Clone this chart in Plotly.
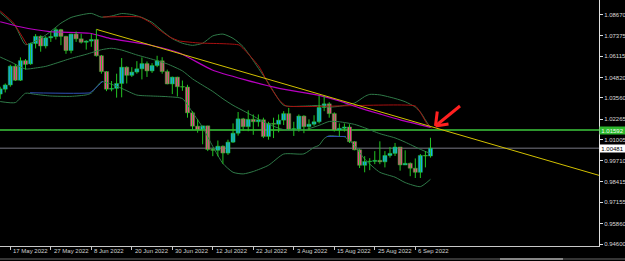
import plotly.graph_objects as go

# ---------------- data (EURUSD daily) ----------------
dates = ["13 May 2022", "16 May 2022", "17 May 2022", "18 May 2022", "19 May 2022", "20 May 2022",
         "23 May 2022", "24 May 2022", "25 May 2022", "26 May 2022", "27 May 2022", "30 May 2022",
         "31 May 2022", "1 Jun 2022", "2 Jun 2022", "3 Jun 2022", "6 Jun 2022", "7 Jun 2022",
         "8 Jun 2022", "9 Jun 2022", "10 Jun 2022", "13 Jun 2022", "14 Jun 2022", "15 Jun 2022",
         "16 Jun 2022", "17 Jun 2022", "20 Jun 2022", "21 Jun 2022", "22 Jun 2022", "23 Jun 2022",
         "24 Jun 2022", "27 Jun 2022", "28 Jun 2022", "29 Jun 2022", "30 Jun 2022", "1 Jul 2022",
         "4 Jul 2022", "5 Jul 2022", "6 Jul 2022", "7 Jul 2022", "8 Jul 2022", "11 Jul 2022",
         "12 Jul 2022", "13 Jul 2022", "14 Jul 2022", "15 Jul 2022", "18 Jul 2022", "19 Jul 2022",
         "20 Jul 2022", "21 Jul 2022", "22 Jul 2022", "25 Jul 2022", "26 Jul 2022", "27 Jul 2022",
         "28 Jul 2022", "29 Jul 2022", "1 Aug 2022", "2 Aug 2022", "3 Aug 2022", "4 Aug 2022",
         "5 Aug 2022", "8 Aug 2022", "9 Aug 2022", "10 Aug 2022", "11 Aug 2022", "12 Aug 2022",
         "15 Aug 2022", "16 Aug 2022", "17 Aug 2022", "18 Aug 2022", "19 Aug 2022", "22 Aug 2022",
         "23 Aug 2022", "24 Aug 2022", "25 Aug 2022", "26 Aug 2022", "29 Aug 2022", "30 Aug 2022",
         "31 Aug 2022", "1 Sep 2022", "2 Sep 2022", "5 Sep 2022", "6 Sep 2022", "7 Sep 2022",
         "8 Sep 2022", "9 Sep 2022"]

opens = [1.0380, 1.0410, 1.0436, 1.0551, 1.0465, 1.0585, 1.0565, 1.0690, 1.0734, 1.0675, 1.0725,
         1.0733, 1.0775, 1.0734, 1.0647, 1.0748, 1.0719, 1.0698, 1.0705, 1.0715, 1.0615, 1.0518,
         1.0410, 1.0415, 1.0445, 1.0545, 1.0495, 1.0515, 1.0535, 1.0567, 1.0522, 1.0555, 1.0584,
         1.0518, 1.0442, 1.0484, 1.0425, 1.0423, 1.0265, 1.0183, 1.0162, 1.0185, 1.0040, 1.0035,
         1.0060, 1.0018, 1.0085, 1.0140, 1.0228, 1.0180, 1.0225, 1.0210, 1.0222, 1.0120, 1.0200,
         1.0195, 1.0220, 1.0260, 1.0165, 1.0165, 1.0245, 1.0180, 1.0195, 1.0210, 1.0298, 1.0320,
         1.0260, 1.0160, 1.0170, 1.0178, 1.0088, 1.0038, 0.9943, 0.9966, 0.9967, 0.9973, 0.9964,
         1.0003, 1.0016, 1.0055, 0.9945, 0.9955, 0.9925, 0.9900, 1.0003, 1.0000]
highs = [1.0425, 1.0445, 1.0560, 1.0565, 1.0605, 1.0595, 1.0695, 1.0748, 1.0740, 1.0735, 1.0765,
         1.0787, 1.0780, 1.0737, 1.0750, 1.0764, 1.0750, 1.0710, 1.0749, 1.0777, 1.0620, 1.0520,
         1.0460, 1.0505, 1.0601, 1.0550, 1.0545, 1.0582, 1.0605, 1.0580, 1.0570, 1.0615, 1.0606,
         1.0530, 1.0487, 1.0486, 1.0463, 1.0437, 1.0275, 1.0225, 1.0185, 1.0185, 1.0050, 1.0095,
         1.0065, 1.0100, 1.0200, 1.0270, 1.0234, 1.0280, 1.0255, 1.0255, 1.0235, 1.0210, 1.0235,
         1.0255, 1.0275, 1.0295, 1.0210, 1.0255, 1.0250, 1.0225, 1.0250, 1.0370, 1.0368, 1.0330,
         1.0268, 1.0200, 1.0200, 1.0195, 1.0090, 1.0045, 0.9999, 0.9987, 1.0030, 1.0090, 1.0030,
         1.0055, 1.0080, 1.0055, 1.0035, 0.9960, 0.9985, 1.0012, 1.0030, 1.0112]
lows = [1.0350, 1.0390, 1.0425, 1.0460, 1.0460, 1.0530, 1.0560, 1.0660, 1.0640, 1.0660, 1.0700,
        1.0715, 1.0680, 1.0627, 1.0630, 1.0700, 1.0690, 1.0653, 1.0670, 1.0610, 1.0505, 1.0398,
        1.0397, 1.0358, 1.0360, 1.0445, 1.0485, 1.0505, 1.0470, 1.0485, 1.0510, 1.0545, 1.0505,
        1.0440, 1.0380, 1.0365, 1.0400, 1.0235, 1.0161, 1.0143, 1.0072, 1.0030, 0.9999, 0.9998,
        0.9952, 1.0007, 1.0080, 1.0125, 1.0155, 1.0152, 1.0130, 1.0180, 1.0110, 1.0100, 1.0110,
        1.0145, 1.0190, 1.0160, 1.0123, 1.0150, 1.0140, 1.0160, 1.0185, 1.0200, 1.0275, 1.0235,
        1.0150, 1.0120, 1.0150, 1.0080, 1.0035, 0.9926, 0.9900, 0.9913, 0.9950, 0.9950, 0.9930,
        0.9990, 1.0000, 0.9910, 0.9945, 0.9876, 0.9865, 0.9865, 0.9930, 0.9990]
closes = [1.0412, 1.0436, 1.0551, 1.0465, 1.0585, 1.0562, 1.0690, 1.0734, 1.0675, 1.0725, 1.0733,
          1.0775, 1.0734, 1.0647, 1.0748, 1.0719, 1.0698, 1.0705, 1.0715, 1.0615, 1.0518, 1.0410,
          1.0415, 1.0445, 1.0545, 1.0495, 1.0515, 1.0535, 1.0567, 1.0522, 1.0555, 1.0584, 1.0518,
          1.0442, 1.0484, 1.0425, 1.0423, 1.0265, 1.0183, 1.0162, 1.0185, 1.0040, 1.0035, 1.0060,
          1.0018, 1.0085, 1.0140, 1.0228, 1.0180, 1.0225, 1.0210, 1.0222, 1.0120, 1.0200, 1.0195,
          1.0220, 1.0260, 1.0165, 1.0165, 1.0245, 1.0180, 1.0195, 1.0210, 1.0298, 1.0320, 1.0260,
          1.0160, 1.0170, 1.0178, 1.0088, 1.0038, 0.9943, 0.9966, 0.9967, 0.9973, 0.9964, 1.0003,
          1.0016, 1.0055, 0.9945, 0.9955, 0.9925, 0.9900, 1.0003, 1.0000, 1.0048]

# Bollinger bands, read at selected bars (bar index -> price)
bb_upper_idx = [0, 3, 5, 7, 9, 11, 12, 14, 16, 18, 20, 22, 24, 26, 28, 30, 32, 34, 36, 38, 40, 42,
                44, 46, 48, 50, 53, 56, 60, 63, 65, 67, 70, 72, 73, 75, 78, 80, 82, 83, 84, 85]
bb_upper = [1.0880, 1.0795, 1.0683, 1.0706, 1.0742, 1.0790, 1.0815, 1.0850, 1.0866, 1.0875, 1.0852,
            1.0859, 1.0874, 1.0868, 1.0850, 1.0820, 1.0768, 1.0720, 1.0692, 1.0679, 1.0692, 1.0737,
            1.0748, 1.0722, 1.0671, 1.0585, 1.0447, 1.0311, 1.0306, 1.0310, 1.0300, 1.0305, 1.0325,
            1.0365, 1.0378, 1.0375, 1.0353, 1.0333, 1.0300, 1.0270, 1.0221, 1.0173]
bb_mid_idx = [0, 2, 5, 7, 9, 11, 14, 17, 20, 22, 24, 27, 30, 33, 36, 38, 40, 42, 44, 46, 48, 50, 53,
              56, 60, 63, 65, 67, 70, 72, 75, 78, 80, 83, 85]
bb_mid = [1.0607, 1.0579, 1.0534, 1.0540, 1.0550, 1.0569, 1.0599, 1.0624, 1.0652, 1.0661, 1.0650,
          1.0620, 1.0594, 1.0565, 1.0522, 1.0473, 1.0434, 1.0396, 1.0351, 1.0311, 1.0278, 1.0245,
          1.0195, 1.0162, 1.0160, 1.0188, 1.0212, 1.0210, 1.0194, 1.0173, 1.0137, 1.0111, 1.0085,
          1.0041, 1.0015]
bb_lower_idx = [0, 3, 5, 7, 10, 14, 17, 18, 19, 20, 22, 24, 27, 30, 33, 36, 38, 40, 42, 44, 46, 48,
                50, 53, 56, 60, 62, 63, 64, 65, 67, 68, 69, 70, 72, 75, 78, 80, 83, 85]
bb_lower = [1.0334, 1.0328, 1.0385, 1.0378, 1.0368, 1.0366, 1.0375, 1.0386, 1.0423, 1.0456, 1.0440,
            1.0415, 1.0374, 1.0368, 1.0364, 1.0352, 1.0267, 1.0175, 1.0059, 0.9954, 0.9900, 0.9890,
            0.9905, 0.9943, 1.0012, 1.0013, 1.0053, 1.0066, 1.0107, 1.0124, 1.0120, 1.0118, 1.0093,
            1.0064, 0.9981, 0.9900, 0.9870, 0.9837, 0.9812, 0.9857]

# long moving average (magenta)
ma_idx = [0, 3.9, 9.8, 17.7, 21.6, 29.5, 35.4, 41.9, 48.6, 55.1, 63, 67, 71, 75, 79, 85]
ma_val = [1.0824, 1.0793, 1.0763, 1.0753, 1.0722, 1.0681, 1.0632, 1.0528, 1.0466, 1.0415, 1.0372,
          1.0338, 1.0295, 1.0258, 1.0222, 1.0176]

# upper stop line (dark red) and lower stop line (blue); None = not drawn
red_idx = [0, 2.6, 5.3, None, 20.3, 27.6, 29.5, 31.5, 33.5, 35.4, 39.4, 47.2, 49.2, 51.2, 53.1,
           55.1, 56.5, 82.0, 83.3, 84.2, 85.2]
red_val = [1.0890, 1.0818, 1.0683, None, 1.0853, 1.0853, 1.0822, 1.0773, 1.0730, 1.0706, 1.0693,
           1.0681, 1.0620, 1.0546, 1.0436, 1.0344, 1.0307, 1.0307, 1.0252, 1.0203, 1.0172]
blue_idx = [5.9, 17.7, 19.1, 20.3, None, 64.5, 68.3]
blue_val = [1.0388, 1.0388, 1.0423, 1.0460, None, 1.0120, 1.0120]

# trend line from the 9 Jun high, extended to the right edge
trend_idx = [19, 118.3]
trend_val = [1.0777, 0.9881]

level_green = 1.01592
level_bid = 1.00481

y_ticks = [0.94600, 0.95860, 0.97155, 0.98415, 0.99710, 1.01005, 1.02265, 1.03560, 1.04820,
           1.06115, 1.07375, 1.08670]
x_label_dates = ["17 May 2022", "27 May 2022", "8 Jun 2022", "20 Jun 2022", "30 Jun 2022",
                 "12 Jul 2022", "22 Jul 2022", "3 Aug 2022", "15 Aug 2022", "25 Aug 2022",
                 "6 Sep 2022"]

# ---------------- styles ----------------
GREEN = "#22c422"
BULL = "#14a8f4"
BEAR = "#f2408e"
BB = "#2f7a48"
FONT = "Liberation Sans"

x_idx = list(range(len(dates)))
x_tick_pos = [dates.index(d) for d in x_label_dates]

fig = go.Figure()

# horizontal levels
fig.add_hline(y=level_bid, line=dict(color="#505058", width=1.5), layer="below")
fig.add_hline(y=level_green, line=dict(color="#3cc83c", width=1.5), layer="below")

def line(xs, ys, color, width=1, smooth=0.6):
    fig.add_trace(go.Scatter(x=xs, y=ys, mode="lines", connectgaps=False,
                             line=dict(color=color, width=width, shape="spline", smoothing=smooth),
                             hoverinfo="skip", showlegend=False))

line(bb_upper_idx, bb_upper, BB)
line(bb_mid_idx, bb_mid, BB)
line(bb_lower_idx, bb_lower, BB)
line(blue_idx, blue_val, "#3050b8", smooth=0.3)
line(red_idx, red_val, "#a81010", smooth=0.4)
line(ma_idx, ma_val, "#b800c0", width=1.2)
fig.add_trace(go.Scatter(x=trend_idx, y=trend_val, mode="lines",
                         line=dict(color="#d2c000", width=1), hoverinfo="skip", showlegend=False))

# candles: wicks as one line trace, bodies as bars
wx, wy = [], []
for i, (h, l) in enumerate(zip(highs, lows)):
    wx += [i, i, None]
    wy += [l, h, None]
fig.add_trace(go.Scatter(x=wx, y=wy, mode="lines", line=dict(color=GREEN, width=1),
                         hoverinfo="skip", showlegend=False))

body_base = [min(o, c) for o, c in zip(opens, closes)]
body_len = [max(abs(c - o), 0.00025) for o, c in zip(opens, closes)]
body_col = [BULL if c >= o else BEAR for o, c in zip(opens, closes)]
fig.add_trace(go.Bar(x=x_idx, y=body_len, base=body_base, width=0.8,
                     marker=dict(color=body_col, line=dict(color=GREEN, width=0.5)),
                     hoverinfo="skip", showlegend=False))

W, H = 625, 261
PW, PH = 599, 246

fig.update_layout(
    width=W, height=H, template="none", barmode="overlay",
    margin=dict(l=0, r=W - PW, t=0, b=H - PH, pad=0),
    paper_bgcolor="black", plot_bgcolor="black",
    font=dict(family=FONT, size=6, color="#d0d0d0"),
    showlegend=False,
    xaxis=dict(range=[-0.035, 118.29], showgrid=False, zeroline=False,
               showline=True, linecolor="#c8c8c8", linewidth=1,
               tickmode="array", tickvals=x_tick_pos, ticktext=["" for _ in x_tick_pos],
               ticks="outside", ticklen=3, tickcolor="#c8c8c8", tickwidth=1, automargin=False),
    yaxis=dict(range=[0.94477, 1.09572], side="right", showgrid=False, zeroline=False,
               showline=True, linecolor="#e0e0e0", linewidth=1,
               tickmode="array", tickvals=y_ticks, ticktext=[f"{v:.5f}" for v in y_ticks],
               ticks="outside", ticklen=3, tickcolor="#e0e0e0", tickwidth=1,
               tickfont=dict(family=FONT, size=6, color="#d8d8d8"), automargin=False),
)

# date labels (left-aligned at tick marks)
for pos, lab in zip(x_tick_pos, x_label_dates):
    fig.add_annotation(x=pos, xref="x", y=-4.7 / PH, yref="paper", text=lab, showarrow=False,
                       xanchor="left", yanchor="middle", xshift=1,
                       font=dict(family=FONT, size=6, color="#d0d0d0"))

# price labels on the right axis
fig.add_annotation(x=1.0, xref="paper", y=level_green, yref="y", text=f"{level_green:.5f}",
                   showarrow=False, xanchor="left", yanchor="middle", bgcolor="#2db82d",
                   width=25, height=7, borderpad=0, align="center",
                   font=dict(family=FONT, size=6, color="#f0fff0"))
fig.add_annotation(x=1.0, xref="paper", y=level_bid, yref="y", text=f"{level_bid:.5f}",
                   showarrow=False, xanchor="left", yanchor="middle", bgcolor="#ffffff",
                   width=25, height=7, borderpad=0, align="center",
                   font=dict(family=FONT, size=6, color="#000000"))

# red arrow pointing at the meeting point (paper coordinates)
def px(xp, yp):
    return xp / PW, 1 - yp / PH

arrow = [((460, 106), (436, 125.5)), ((437.3, 111.5), (435.5, 126)), ((435.5, 126), (448.5, 124))]
for (a, b) in arrow:
    x0, y0 = px(*a)
    x1, y1 = px(*b)
    fig.add_shape(type="line", xref="paper", yref="paper", x0=x0, y0=y0, x1=x1, y1=y1,
                  line=dict(color="#ff2020", width=3))

# bottom window border
fig.add_shape(type="line", xref="paper", yref="paper", x0=0, x1=W / PW, y0=-13 / PH, y1=-13 / PH,
              line=dict(color="#6a6a6a", width=1))
fig.add_shape(type="line", xref="paper", yref="paper", x0=500 / PW, x1=563 / PW, y0=-13 / PH,
              y1=-13 / PH, line=dict(color="#d8d8d8", width=1))

fig.write_html("out.html")
